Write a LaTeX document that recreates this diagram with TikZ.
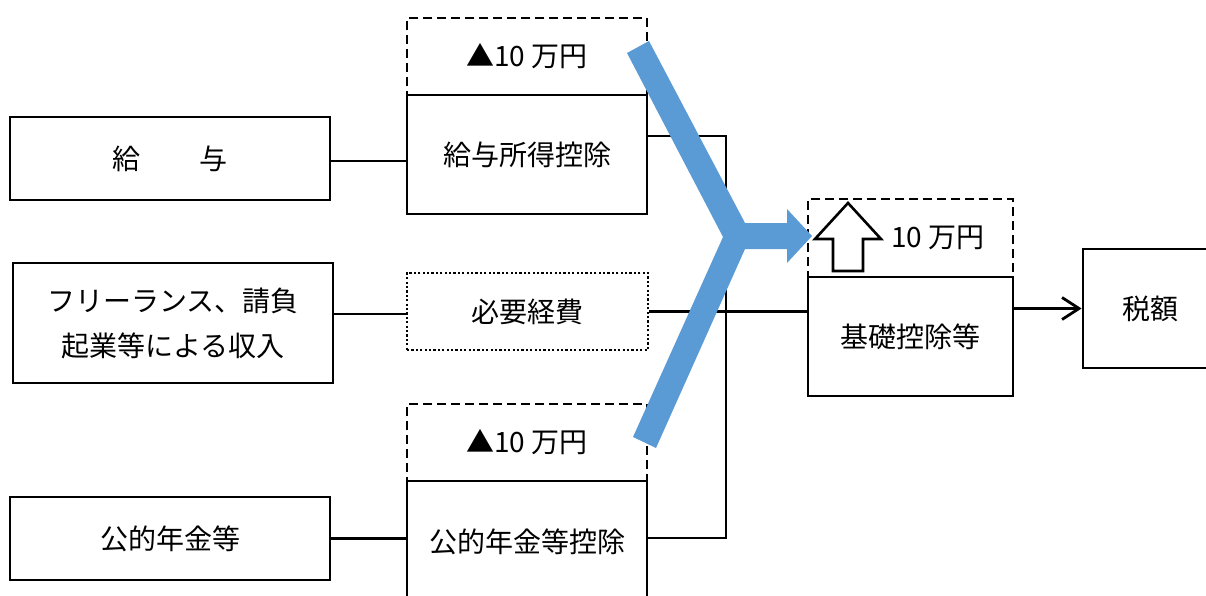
\documentclass[tikz,border=0pt]{standalone}
\usepackage{fontspec}
\setmainfont{Noto Sans CJK JP}
\usetikzlibrary{arrows.meta,calc}
\definecolor{blueband}{HTML}{5B9BD5}
\begin{document}
\begin{tikzpicture}[x=1pt,y=-1pt,
  txt/.style={inner sep=0pt,font=\fontsize{28}{45}\selectfont,align=center},
  box/.style={txt,draw,line width=2.8pt},
  dbox/.style={txt,draw,line width=2.2pt,dash pattern=on 9pt off 5pt},
  dotbox/.style={txt,draw,line width=2.6pt,dash pattern=on 2.2pt off 2.2pt},
  conn/.style={line width=2.8pt},
  hollow/.style={draw,fill=white,line width=2.6pt,line join=miter}]
\useasboundingbox (0,0) rectangle (1206,596);
\clip (0,0) rectangle (1206,596);
% left column
\node[box,minimum width=320pt,minimum height=83pt] (kyuyo) at (170,158.5) {給\hspace{60pt}与};
\node[box,minimum width=320pt,minimum height=120pt] (free) at (173,323) {フリーランス、請負\\起業等による収入};
\node[box,minimum width=320pt,minimum height=83pt] (nenkin) at (170,538.5) {公的年金等};
% middle column
\node[dbox,minimum width=240pt,minimum height=77pt] (kdedtop) at (527,56.5) {▲10 万円};
\node[box,fill=white,minimum width=240pt,minimum height=119pt] (kded) at (527,154.5) {給与所得控除};
\node[dotbox,minimum width=241pt,minimum height=77pt] (hiyo) at (527.5,311.5) {必要経費};
\node[dbox,minimum width=240pt,minimum height=77pt] (pdedtop) at (527,442.5) {▲10 万円};
\node[box,fill=white,minimum width=240pt,minimum height=122pt] (pded) at (527,542) {公的年金等控除};
% right part
\node[box,minimum width=205pt,minimum height=119pt] (kiso) at (910.5,336.5) {基礎控除等};
\node[dbox,minimum width=205pt,minimum height=78pt] (kisotop) at (910.5,238) {};
\node[txt] (plus) at (938,238) {10 万円};
\node[box,minimum width=134pt,minimum height=119pt] (zei) at (1150,308.5) {税額};
% connectors
\coordinate (j1) at (726,136);
\coordinate (j2) at (726,538);
\draw[conn] (kyuyo.east |- 0,161) -- (kded.west |- 0,161);
\draw[conn] (free.east |- 0,314) -- (hiyo.west |- 0,314);
\draw[conn] (nenkin.east) -- (pded.west |- nenkin.east);
\draw[conn] (kded.east |- j1) -- (j1) -- (j2) -- (pded.east |- j2);
\draw[conn] (hiyo.east) -- (kiso.west |- hiyo.east);
\draw[conn,-{Straight Barb[length=17pt,width=22pt]}] (kiso.east |- zei.west) -- (zei.west);
% hollow up arrow
\draw[hollow] (848,203) -- (881,239) -- (863,239) -- (863,271) -- (833,271) -- (833,239) -- (815,239) -- cycle;
% blue band
\fill[blueband] (627,53) -- (649,41) -- (745,223) -- (787,223) -- (787,209) -- (812,236) -- (787,263) -- (787,249) -- (745,249) -- (656,448) -- (633,437) -- (723,237) -- cycle;
\end{tikzpicture}
\end{document}
